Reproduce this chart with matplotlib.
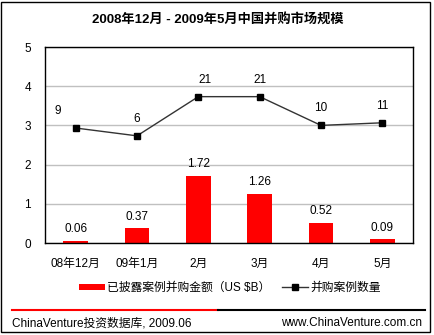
import matplotlib
matplotlib.use('Agg')
import numpy as np
import matplotlib.pyplot as plt
from matplotlib.lines import Line2D
from matplotlib.patches import Rectangle

plt.rcParams['font.family'] = ['Liberation Sans', 'Noto Sans CJK SC', 'DejaVu Sans']

months = ['08年12月', '09年1月', '2月', '3月', '4月', '5月']
deal_amount = [0.06, 0.37, 1.72, 1.26, 0.52, 0.09]   # US $B
deal_count = [9, 6, 21, 21, 10, 11]

title = '2008年12月 - 2009年5月中国并购市场规模'
amount_label = '已披露案例并购金额（US $B）'
count_label = '并购案例数量'
source_text = 'ChinaVenture投资数据库, 2009.06'
site_text = 'www.ChinaVenture.com.cn'

W, H = 435, 335
fig = plt.figure(figsize=(W / 100, H / 100), dpi=100)


def fx(px):
    return px / W


def fy(py):
    return 1 - py / H


ax = fig.add_axes([fx(45), fy(243), fx(413) - fx(45), fy(47) - fy(243)])
x = np.arange(len(months))

# amount bars
bars = ax.bar(x, deal_amount, width=0.4, color='#ff0000', zorder=2, label=amount_label)
for xi, v in zip(x, deal_amount):
    ax.annotate(f'{v:.2f}', (xi, v), xytext=(0, 4), textcoords='offset points',
                ha='center', va='bottom', fontsize=8.5)

ax.set_xlim(-0.5, len(months) - 0.5)
ax.set_ylim(0, 5)
ax.set_yticks(range(6))
ax.set_xticks(x)
ax.set_xticklabels(months, fontsize=8.5)
ax.tick_params(axis='both', length=0, labelsize=8.5)
ax.tick_params(axis='x', pad=11)
ax.tick_params(axis='y', pad=10)
ax.yaxis.grid(True, color='#c0c0c0', linewidth=1)
ax.set_axisbelow(True)
for s in ax.spines.values():
    s.set_color('black')
    s.set_linewidth(1)

# count line on a hidden secondary scale
ax2 = ax.twinx()
ax2.set_ylim(-35, 40)
ax2.set_yticks([])
for s in ax2.spines.values():
    s.set_visible(False)
line, = ax2.plot(x, deal_count, color='#333333', linewidth=1, marker='s',
                 markersize=5, markerfacecolor='black', markeredgecolor='black',
                 zorder=3, label=count_label)
label_dx = [-13, 0, 5, 0, 0, 0]
for xi, v, dx in zip(x, deal_count, label_dx):
    ax2.annotate(str(v), (xi, v), xytext=(dx, 8), textcoords='offset points',
                 ha='center', va='bottom', fontsize=8.5)

fig.text(0.5, fy(20), title, ha='center', va='center', fontsize=9.5, fontweight='bold')

fig.legend([bars, line], [amount_label, count_label], loc='center',
           bbox_to_anchor=(fx(230), fy(288)), ncol=2, frameon=False,
           fontsize=8.5, handlelength=2.2, handleheight=0.45,
           handletextpad=0.2, columnspacing=1.0)

# footer separator and credits
fig.add_artist(Line2D([fx(12), fx(218)], [fy(310), fy(310)], color='#ff0000', linewidth=1.5))
fig.add_artist(Line2D([fx(218), fx(425)], [fy(310), fy(310)], color='black', linewidth=1.5))
fig.text(fx(12), fy(323), source_text, ha='left', va='center', fontsize=8.5)
fig.text(fx(422), fy(323), site_text, ha='right', va='center', fontsize=8.5)

fig.add_artist(Rectangle((fx(1.5), fy(331.5)), fx(429), fy(1.5) - fy(331.5),
                         fill=False, edgecolor='black', linewidth=1,
                         transform=fig.transFigure))

fig.savefig('out.png', dpi=100)
